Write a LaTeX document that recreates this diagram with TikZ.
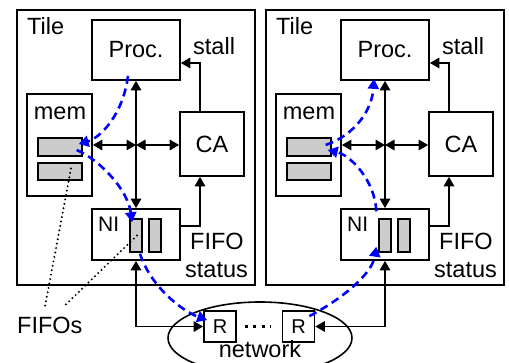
\documentclass[tikz,border=0pt]{standalone}
\usepackage{fontspec}
\setmainfont{Liberation Sans}
\usetikzlibrary{arrows.meta,calc,shapes.geometric}

\begin{document}
\begin{tikzpicture}[x=1pt,y=-1pt,
  box/.style={draw, line width=1.7pt, inner sep=0pt, fill=white},
  fifo/.style={draw, line width=1.4pt, fill=black!20, inner sep=0pt},
  lbl/.style={inner sep=0pt, font=\fontsize{23.5}{27}\selectfont},
  link/.style={line width=1.6pt, {Triangle[length=9.5pt,width=10.5pt]}-{Triangle[length=9.5pt,width=10.5pt]}},
  sig/.style={line width=1.6pt, -{Triangle[length=9.5pt,width=10.5pt]}},
  flow/.style={blue, line width=2.6pt, dash pattern=on 8pt off 5pt, -{Triangle[length=10pt,width=11pt]}},
  hint/.style={line width=2.2pt, line cap=round, dash pattern=on 0pt off 4.5pt},
]
\fill[white] (0,0) rectangle (509,363);
\useasboundingbox (0,0) rectangle (509,363);

% network ring with its two routers
\node[draw, ellipse, line width=1.6pt, minimum width=184pt, minimum height=72pt] (net) at (260,338) {};
\node[box, minimum width=32pt, minimum height=31pt, font=\fontsize{20}{24}\selectfont] (r1) at (220,326.5) {R};
\node[box, minimum width=32pt, minimum height=31pt, font=\fontsize{20}{24}\selectfont] (r2) at (298.5,326.5) {R};
\draw[line width=3pt, dash pattern=on 3pt off 5.5pt, shorten <=8pt, shorten >=10.5pt] (r1.east) -- (r2.west);
\node[lbl, anchor=base] (netname) at (260,358) {network};

% two identical tiles
\foreach \s/\o in {L/0, R/249} {
  \node[box, minimum width=238pt, minimum height=275pt] (tile\s) at (136+\o,147.5) {};
  \node[lbl, anchor=base west] (tilename\s) at (27+\o,35) {Tile};
  \node[box, lbl, minimum width=88pt, minimum height=60pt] (proc\s) at (136+\o,50) {Proc.};
  \node[box, minimum width=65pt, minimum height=102pt] (mem\s) at (59.5+\o,145) {};
  \node[lbl, anchor=base] (memname\s) at (60+\o,120) {mem};
  \node[fifo, minimum width=44pt, minimum height=18pt] (memfa\s) at (60+\o,147) {};
  \node[fifo, minimum width=44pt, minimum height=17pt] (memfb\s) at (60+\o,171.5) {};
  \node[box, lbl, minimum size=64pt] (ca\s) at (212+\o,144) {CA};
  \node[box, minimum width=88pt, minimum height=51pt] (ni\s) at (136+\o,234.5) {};
  \node[anchor=base west, inner sep=0pt, font=\fontsize{21}{25}\selectfont] (niname\s) at (98+\o,232) {NI};
  \node[fifo, minimum width=12pt, minimum height=33pt] (nifa\s) at (136+\o,235.5) {};
  \node[fifo, minimum width=12pt, minimum height=33pt] (nifb\s) at (155+\o,235.5) {};
  \node[lbl, anchor=base west] (stall\s) at (193+\o,55) {stall};
  \node[lbl, anchor=base west] (fifolbl\s) at (190+\o,250) {FIFO};
  \node[lbl, anchor=base west] (statuslbl\s) at (185+\o,278) {status};
  \coordinate (hub\s) at (136+\o,145);
  \draw[link] (proc\s.south) -- (ni\s.north);
  \draw[link] (mem\s.east) -- (hub\s);
  \draw[link] (hub\s) -- (ca\s.west |- hub\s);
  \draw[sig] ($(ca\s.north)+(-12,0)$) |- ($(proc\s.east)+(0,13)$);
  \draw[sig] ($(ni\s.east)+(0,-8.5)$) -| ($(ca\s.south)+(-12,0)$);
}

% tiles to routers
\draw[link] (niL.south) |- (r1.west);
\draw[link] (niR.south) |- (r2.east);

% FIFO callout
\node[lbl, anchor=base west] (fifos) at (17,334) {FIFOs};
\draw[hint] ($(memfbL.center)+(11,-3)$) -- ($(fifos.north)+(-5,-10)$);
\draw[hint] ($(nifaL.center)+(1,0)$) -- ($(fifos.north)+(13,-10)$);

% message path: sender tile
\draw[flow] ($(procL.south)+(-8,-5)$) .. controls (123,115) and (100,138) .. ($(memfaL.east)+(-4,-3)$);
\draw[flow] ($(memfaL.east)+(-6,3)$) .. controls (100,160) and (128,190) .. ($(nifaL.north)+(-4,4)$);
\draw[flow] ($(nifaL.south)+(4,1)$) .. controls (150,285) and (180,310) .. ($(r1.north west)+(4,10)$);

% message path: receiver tile
\draw[flow] ($(r2.north east)+(-6,6)$) .. controls (340,300) and (372,275) .. ($(nifaR.south west)+(-2,-6)$);
\draw[flow] ($(nifaR.north west)+(-2,-7)$) .. controls (375,180) and (350,155) .. ($(memfaR.east)+(-4,3)$);
\draw[flow] ($(memfaR.east)+(-6,-2)$) .. controls (355,135) and (372,110) .. ($(procR.south)+(-11,-2)$);
\end{tikzpicture}
\end{document}
